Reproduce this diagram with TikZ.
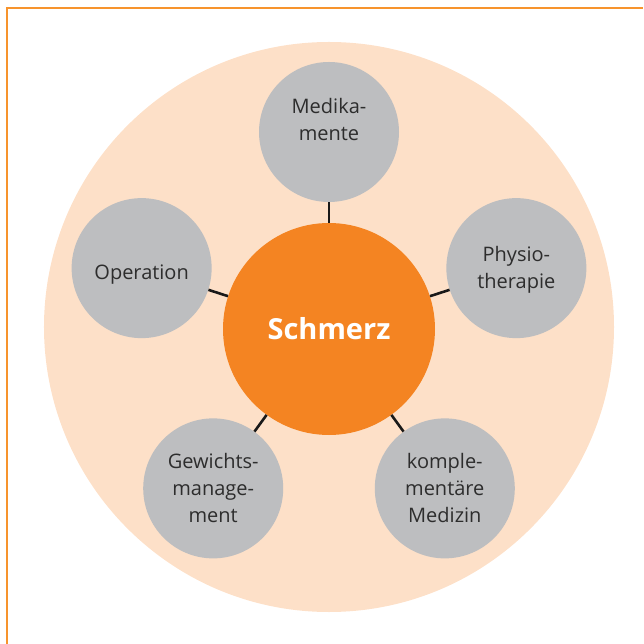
\documentclass[tikz,border=0pt]{standalone}
\usepackage{fontspec}
\setmainfont{Open Sans}
\definecolor{peach}{RGB}{253,224,200}
\definecolor{painorange}{RGB}{244,132,34}
\definecolor{framorange}{RGB}{247,148,45}
\definecolor{satgray}{RGB}{189,190,192}
\definecolor{txtgray}{RGB}{45,45,45}

\begin{document}
\begin{tikzpicture}[x=1pt,y=1pt,
    sat/.style={circle,fill=satgray,minimum size=140pt,inner sep=0pt},
    sattext/.style={align=center,text=txtgray,inner sep=0pt,
        font=\fontsize{20}{27}\selectfont},
    core/.style={circle,fill=painorange,minimum size=212pt,inner sep=0pt,
        text=white,font=\fontsize{29}{34}\selectfont\bfseries},
    link/.style={line width=2.6pt,draw=black!90}]
    \useasboundingbox (-329,-315) rectangle (314,329);
    % frame and background disc
    \draw[framorange,line width=1.6pt] (-322,-315) -- (-322,321) -- (314,321);
    \fill[peach] (0,2) circle (285);
    \node[core] (schmerz) at (0,0) {Schmerz};
    \foreach \ang/\dy/\name/\txt in {90/12/medikamente/{Medika-\\mente},
            18/-2/physio/{Physio-\\therapie},
            162/-6/operation/{Operation},
            234/0/gewicht/{Gewichts-\\manage-\\ment},
            306/0/komplementaer/{komple-\\mentäre\\Medizin}}
    {
        \node[sat] (\name) at (\ang:197) {};
        \node[sattext] (\name-txt) at ([yshift=\dy]\name.center) {\txt};
        \draw[link] (schmerz) -- (\name);
    }
\end{tikzpicture}
\end{document}
